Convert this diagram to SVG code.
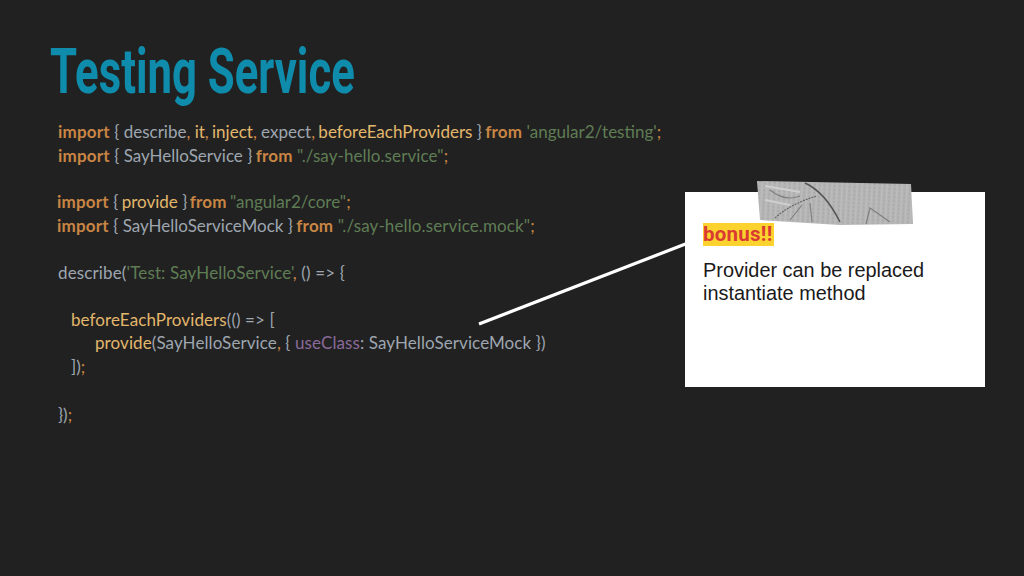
<svg xmlns="http://www.w3.org/2000/svg" width="1024" height="576" viewBox="0 0 1024 576">
<style>
.c{font-family:Lato,"Open Sans",sans-serif;font-size:17px;fill:#9ea6b0}
.k{fill:#c98544;font-weight:700;letter-spacing:.2px}
.f{fill:#e3b76c}
.s{fill:#5f7d55}
.o{fill:#c98544}
.p{fill:#8a6a9a}
.w{letter-spacing:.09px}
.a{font-family:"Liberation Sans",Arial,sans-serif;font-size:19.9px;fill:#1a1a1a}
</style>
<defs>
<clipPath id="tc"><polygon points="757,181 911,184 913,224 840,225 760,220"/></clipPath>
<pattern id="tex" width="5" height="4" patternUnits="userSpaceOnUse" patternTransform="rotate(3)">
<rect width="5" height="4" fill="#b4b4b4"/>
<rect width="1.4" height="4" fill="#bdbdbd"/>
<rect x="2.6" y="1" width="1.2" height="2" fill="#a8a8a8"/>
</pattern>
</defs>
<rect width="1024" height="576" fill="#212121"/>
<text id="title" transform="translate(50 93) scale(0.705 1)" font-family="Roboto,sans-serif" font-weight="700" font-size="62" fill="#0f8cab">Testing Service</text>
<g id="code">
<text class="c" x="58" y="138"><tspan class="k">import</tspan> { describe<tspan class="o">,</tspan> <tspan class="f">it</tspan><tspan class="o">,</tspan> <tspan class="f" dx="-1">inject</tspan><tspan class="o">,</tspan> expect<tspan class="o">,</tspan> <tspan class="f" dx="-1">beforeEachProviders</tspan> } <tspan class="k" dx="-1">from</tspan> <tspan class="s">'angular2/testing'</tspan><tspan class="o">;</tspan></text>
<text class="c" x="58" y="162"><tspan class="k">import</tspan> { SayHelloService } <tspan class="k" dx="-1">from</tspan> <tspan class="s w">"./say-hello.service"</tspan><tspan class="o">;</tspan></text>
<text class="c" x="57" y="208"><tspan class="k">import</tspan> { <tspan class="f" dx="-1">provide</tspan> } <tspan class="k" dx="-2">from</tspan> <tspan class="s" dx="-1">"angular2/core"</tspan><tspan class="o">;</tspan></text>
<text class="c" x="57" y="232"><tspan class="k">import</tspan> { SayHelloServiceMock } <tspan class="k" dx="-1">from</tspan> <tspan class="s" style="letter-spacing:.12px">"./say-hello.service.mock"</tspan><tspan class="o">;</tspan></text>
<text class="c" x="58" y="279" style="letter-spacing:.14px">describe(<tspan class="s">'Test: SayHelloService'</tspan><tspan class="o">,</tspan> () =&gt; {</text>
<text class="c w" x="71" y="326"><tspan class="f">beforeEachProviders</tspan>(() =&gt; [</text>
<text class="c" x="95" y="349" style="letter-spacing:.09px"><tspan class="f">provide</tspan>(SayHelloService<tspan class="o">,</tspan> { <tspan class="p">useClass</tspan>: SayHelloServiceMock })</text>
<text class="c" x="71" y="373">]<tspan>)</tspan><tspan class="o">;</tspan></text>
<text class="c" x="58" y="421">})<tspan class="o">;</tspan></text>
</g>
<g id="connectors"><line x1="479" y1="324" x2="688" y2="243" stroke="#fff" stroke-width="3.2"/></g>
<g id="note">
<rect x="685" y="192" width="300" height="195" fill="#fff"/>
<g id="tape">
<polygon points="757,181 911,184 913,224 840,225 760,220" fill="url(#tex)"/>
<g clip-path="url(#tc)" fill="none">
<path d="M805,183 Q825,192 840,222" stroke="#555" stroke-width="1.6"/>
<path d="M775,218 Q790,204 817,196" stroke="#666" stroke-width="1.2" stroke-dasharray="2 1"/>
<path d="M770,190 Q785,202 800,196M790,220 L802,205M812,222 L810,203M866,224 L870,208 L890,222" stroke="#808080" stroke-width="1.2"/>
<path d="M765,186 L800,192M765,200 L790,205" stroke="#cfcfcf" stroke-width="2"/>
</g>
</g>
<rect x="703" y="223" width="71" height="23" fill="#fcd22e"/>
<text x="703" y="241" font-family="Roboto,sans-serif" font-weight="700" font-size="20.5" letter-spacing=".25" fill="#d93a32">bonus!!</text>
<text class="a" x="703" y="277">Provider can be replaced</text>
<text class="a" x="703" y="300">instantiate method</text>
</g>
</svg>
